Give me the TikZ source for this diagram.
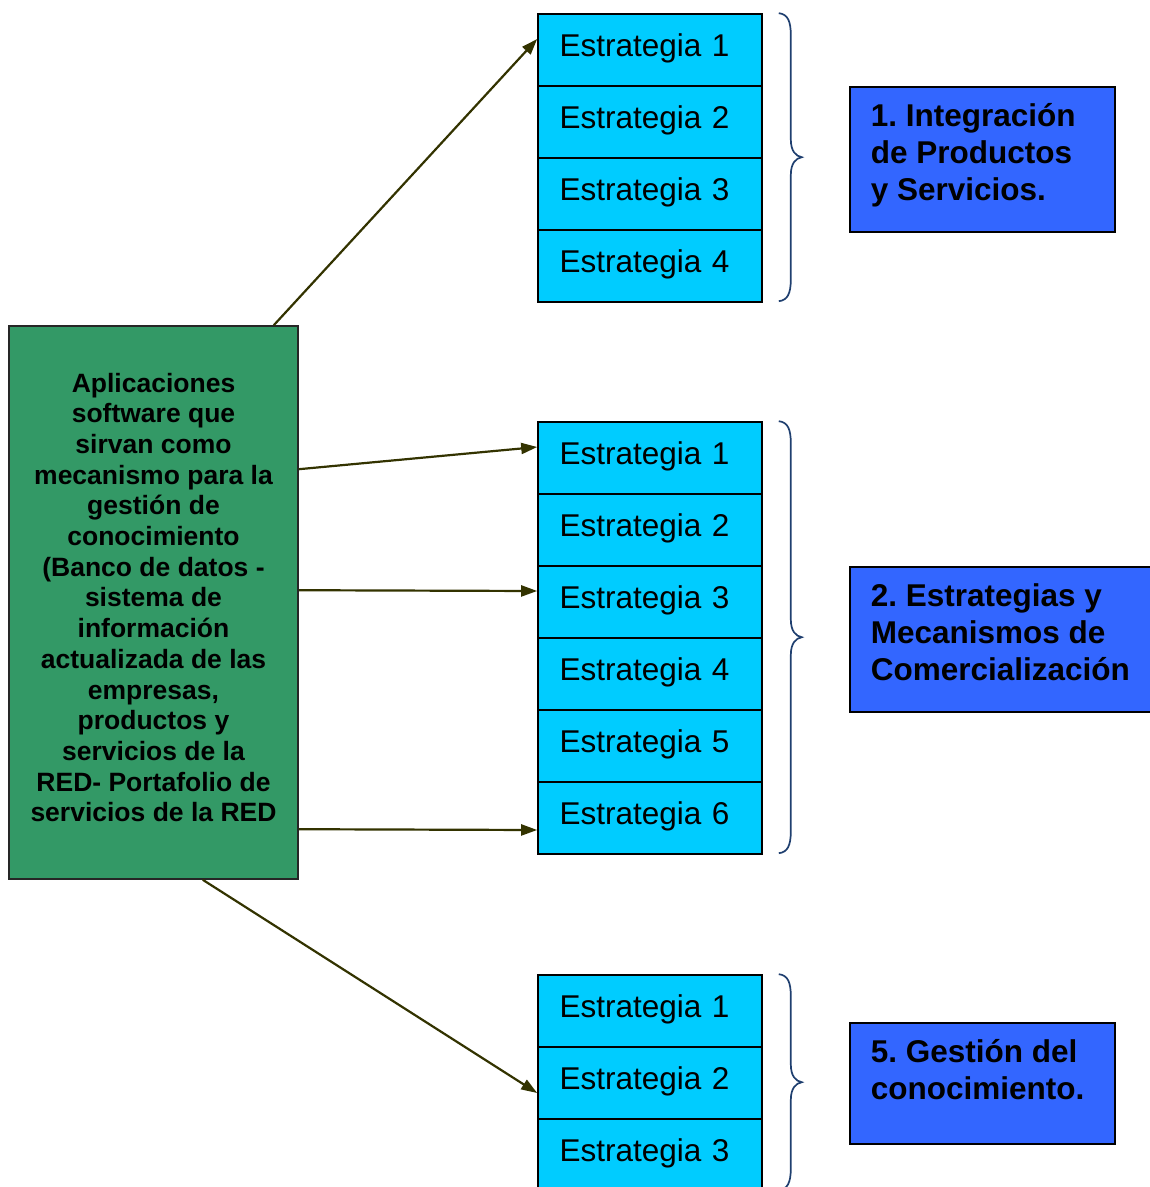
\documentclass[tikz,border=0pt]{standalone}
\usepackage{fontspec}
\setmainfont{Liberation Sans}
\usetikzlibrary{arrows.meta}
\frenchspacing

\definecolor{appgreen}{HTML}{339966}
\definecolor{stratcyan}{HTML}{00CCFF}
\definecolor{areablue}{HTML}{3366FF}
\definecolor{linkolive}{HTML}{333300}
\definecolor{bracenavy}{HTML}{1F3F6F}

\tikzset{
  stratbox/.style={draw=black, line width=1.6pt, fill=stratcyan,
    minimum height=72pt, text width=181pt, inner xsep=21.5pt, inner ysep=0pt,
    align=left, text height=22pt, text depth=10pt,
    font=\fontsize{31.5}{37}\selectfont},
  appbox/.style={draw=black!85, line width=1.6pt, fill=appgreen,
    inner sep=0pt, font=\bfseries\fontsize{26.5}{30.7}\selectfont},
  areabox/.style={draw=black, line width=1.6pt, fill=areablue, anchor=north west,
    inner xsep=21pt, inner ysep=0pt,
    font=\bfseries\fontsize{31.5}{37}\selectfont},
  link/.style={draw=linkolive, line width=2.2pt, -{Triangle[length=16pt,width=11pt]}},
  pics/curly/.style={code={
    \draw[bracenavy, line width=1.7pt]
      (0,0) .. controls (9,1) and (12,8) .. (12,22)
      -- (12,{#1/2-18}) .. controls (12,{#1/2-6}) and (17,{#1/2-1}) .. (23,{#1/2})
      .. controls (17,{#1/2+1}) and (12,{#1/2+6}) .. (12,{#1/2+18})
      -- (12,{#1-22}) .. controls (12,{#1-8}) and (9,{#1-1}) .. (0,#1);
  }}
}

% fixed-size text block whose first baseline sits a given distance below its top
\newcommand{\areatext}[3]{\parbox[c][#1][t]{#2}{\raggedright\rule{0pt}{40pt}#3}}
\newcommand{\apptext}[1]{\parbox[c][553pt][t]{289pt}{\centering\rule{0pt}{66pt}#1}}

\begin{document}
\begin{tikzpicture}[x=1pt, y=-1pt]
  \useasboundingbox (0,0) rectangle (1150,1187);
  \clip (0,0) rectangle (1150,1187);

  % source box
  \node[appbox] (app) at (153.5,602.5) {\apptext{Aplicaciones\\software que\\sirvan como\\mecanismo para la\\gestión de\\conocimiento\\(Banco de datos -\\sistema de\\información\\actualizada de las\\empresas,\\productos y\\servicios de la\\RED- Portafolio de\\servicios de la RED}};

  % strategy stacks
  \foreach \i in {1,...,4}
    \node[stratbox] (t\i) at (650,{50+72*(\i-1)}) {Estrategia \i};
  \foreach \i in {1,...,6}
    \node[stratbox] (m\i) at (650,{458+72*(\i-1)}) {Estrategia \i};
  \foreach \i in {1,...,3}
    \node[stratbox] (b\i) at (650,{1011+72*(\i-1)}) {Estrategia \i};

  % braces
  \pic at ([xshift=16pt]t1.north east) {curly=288};
  \pic at ([xshift=16pt]m1.north east) {curly=432};
  \pic at ([xshift=16pt]b1.north east) {curly=216};

  % areas
  \node[areabox] (a1) at (849,86) {\areatext{145pt}{223pt}{1. Integración\\de Productos\\y Servicios.}};
  \node[areabox] (a2) at (849,566) {\areatext{145pt}{268pt}{2. Estrategias y\\Mecanismos de\\Comercialización}};
  \node[areabox] (a5) at (849,1022) {\areatext{121pt}{223pt}{5. Gestión del\\conocimiento.}};

  % links
  \draw[link] ([xshift=-25pt]app.north east) -- ([yshift=11pt]t1.west);
  \draw[link] ([yshift=-144pt]app.north east) -- ([yshift=11pt]m1.west);
  \draw[link] ([yshift=-265pt]app.north east) -- ([yshift=11pt]m3.west);
  \draw[link] ([yshift=-504pt]app.north east) -- ([yshift=-12pt]m6.west);
  \draw[link] ([xshift=-96pt]app.south east) -- ([yshift=-10pt]b2.west);
\end{tikzpicture}
\end{document}
